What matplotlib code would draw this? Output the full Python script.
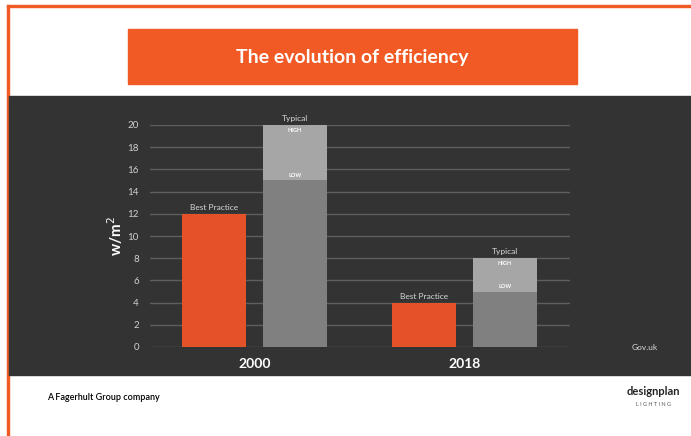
import matplotlib.pyplot as plt
from matplotlib.patches import Rectangle

years = ['2000', '2018']
best_practice = [12, 4]
typical_low = [15, 5]
typical_high = [20, 8]
y_ticks = [0, 2, 4, 6, 8, 10, 12, 14, 16, 18, 20]

orange = '#E4522A'
plt.rcParams['font.family'] = ['Lato', 'DejaVu Sans']

fig = plt.figure(figsize=(6.91, 4.36), dpi=100)
fig.patch.set_facecolor('white')

# frame and panels (behind the axes)
for rect, col in [((7 / 691, 0, 2 / 691, 1 - 5 / 436), '#F15A24'),
                  ((7 / 691, 1 - 7 / 436, 1, 2 / 436), '#F15A24'),
                  ((9 / 691, 1 - 375 / 436, 1, 279 / 436), '#333333'),
                  ((128 / 691, 1 - 84 / 436, 449 / 691, 55 / 436), '#F15A24')]:
    fig.patches.append(Rectangle(rect[:2], rect[2], rect[3], transform=fig.transFigure,
                                 color=col, zorder=-5))
fig.text(352 / 691, 1 - 57 / 436, 'The evolution of efficiency', color='white', fontsize=14,
         fontweight='bold', ha='center', va='center')

ax = fig.add_axes([150 / 691, 1 - 347 / 436, 420 / 691, 222 / 436])
ax.set_facecolor('none')
x = range(len(years))
w = 0.305
xb = [i - 0.195 for i in x]
xt = [i + 0.19 for i in x]
ax.bar(xb, best_practice, width=w, color=orange, zorder=3)
ax.bar(xt, typical_low, width=w, color='#808080', zorder=3)
ax.bar(xt, [h - l for h, l in zip(typical_high, typical_low)], bottom=typical_low, width=w,
       color='#A6A6A6', zorder=3)

for i in x:
    ax.text(xb[i], best_practice[i] + 0.25, 'Best Practice', color='#D9D9D9', fontsize=6,
            ha='center', va='bottom')
    ax.text(xt[i], typical_high[i] + 0.25, 'Typical', color='#D9D9D9', fontsize=6,
            ha='center', va='bottom')
    ax.text(xt[i], typical_high[i] - 0.25, 'HIGH', color='white', fontsize=4, fontweight='bold',
            ha='center', va='top')
    ax.text(xt[i], typical_low[i] + 0.2, 'LOW', color='white', fontsize=4, fontweight='bold',
            ha='center', va='bottom')
    ax.text(i, -1.0, years[i], color='white', fontsize=10, fontweight='bold', ha='center', va='top')

ax.set_xlim(-0.5, 1.5)
ax.set_ylim(0, 20)
ax.set_yticks(y_ticks)
ax.set_xticks([])
ax.tick_params(axis='y', length=0, labelsize=7, labelcolor='#D0D0D0', pad=8)
ax.grid(axis='y', color='#5E5E5E', lw=1, zorder=0)
for s in ax.spines.values():
    s.set_visible(False)
ax.set_ylabel('w/m$^2$', color='white', fontsize=11, fontweight='bold', labelpad=2)

fig.text(645 / 691, 1 - 347 / 436, 'Gov.uk', color='#D9D9D9', fontsize=6, ha='center', va='center')
fig.text(47 / 691, 1 - 397 / 436, 'A Fagerhult Group company', color='black', fontsize=6.5,
         fontweight='semibold', ha='left', va='center')
fig.text(653 / 691, 1 - 391 / 436, 'designplan', color='#222222', fontsize=8, fontweight='bold',
         ha='center', va='center')
fig.text(653 / 691, 1 - 404 / 436, 'L I G H T I N G', color='#555555', fontsize=4,
         ha='center', va='center')

fig.savefig('out.png', dpi=100, facecolor='white')
